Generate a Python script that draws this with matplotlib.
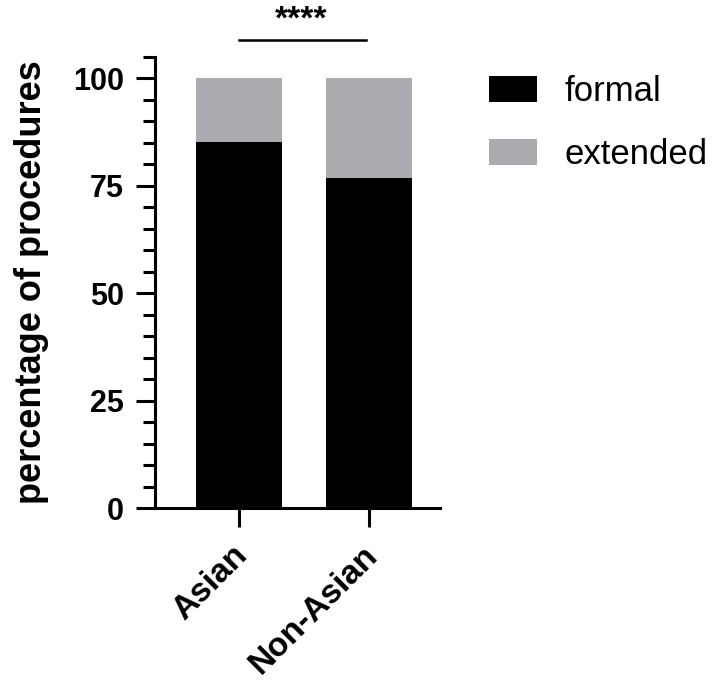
import matplotlib
matplotlib.use("Agg")
import matplotlib.pyplot as plt
import matplotlib.transforms as mtransforms
import numpy as np
from matplotlib.patches import Patch

groups = ["Asian", "Non-Asian"]
formal = [85.2, 76.9]
extended = [14.8, 23.1]
series_labels = ["formal", "extended"]
colors = ["#000000", "#ababaf"]

plt.rcParams['font.family'] = ['Liberation Sans', 'DejaVu Sans']

fig = plt.figure(figsize=(7.16, 6.8), dpi=100)
ax = fig.add_axes([0.2165, 0.2529, 0.398, 0.6633])

x = np.arange(len(groups))
ax.bar(x, formal, width=0.654, color=colors[0], edgecolor="none")
ax.bar(x, extended, width=0.654, bottom=formal, color=colors[1], edgecolor="none")

ax.set_xlim(-0.646, 1.546)
ax.set_ylim(0, 105)
ax.set_yticks([0, 25, 50, 75, 100])
ax.set_yticks(np.arange(0, 106, 5), minor=True)
ax.set_xticks(x)

for s in ["top", "right"]:
    ax.spines[s].set_visible(False)
for s in ["left", "bottom"]:
    ax.spines[s].set_linewidth(2.2)
ax.tick_params(axis="both", which="major", length=14, width=2.2)
ax.tick_params(axis="y", which="major", pad=8.5)
ax.tick_params(axis="x", which="major", pad=8.5)
ax.tick_params(axis="y", which="minor", length=8.5, width=2.2)
ax.tick_params(axis="x", which="minor", length=0)

ax.set_xticklabels(groups, rotation=45, ha="right", rotation_mode="anchor",
                   fontsize=24, fontweight="bold")
shift = mtransforms.ScaledTranslation(-7 / 100, 0, fig.dpi_scale_trans)
for lab in ax.get_xticklabels():
    lab.set_transform(lab.get_transform() + shift)
for lab in ax.get_yticklabels():
    lab.set_fontsize(22)
    lab.set_fontweight("bold")

ax.set_ylabel("percentage of procedures", fontsize=26, fontweight="bold", labelpad=17)

# significance bar
ax.plot([0, 0.975], [108.9, 108.9], color="black", lw=1.8, clip_on=False)
ax.text(0.48, 110.1, "****", ha="center", va="bottom", fontsize=24, fontweight="bold")

handles = [Patch(facecolor=c, edgecolor="none") for c in colors]
fig.legend(handles, series_labels, loc="upper left", bbox_to_anchor=(0.683, 0.889),
           frameon=False, fontsize=25, handlelength=1.38, handleheight=0.78,
           handletextpad=0.8, labelspacing=0.85, borderpad=0, borderaxespad=0)

fig.savefig("out.png", dpi=100)
